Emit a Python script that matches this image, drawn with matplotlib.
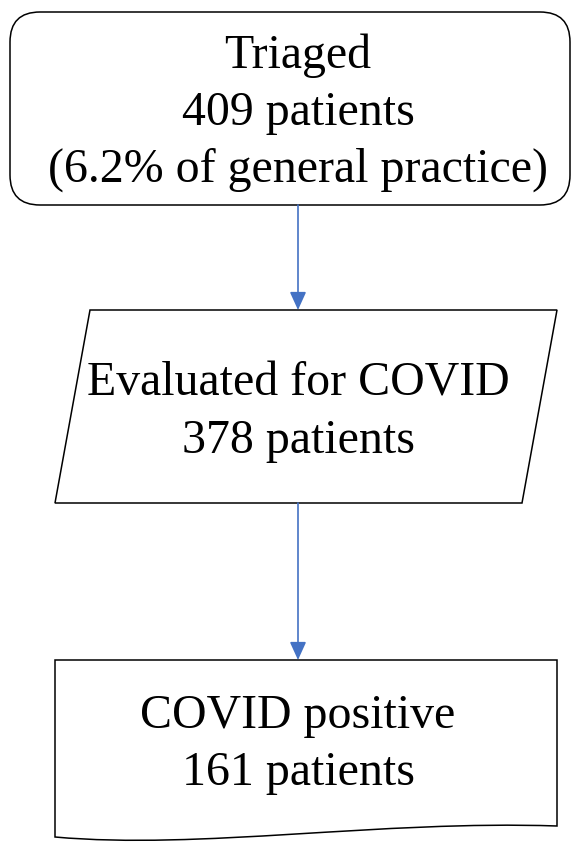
import numpy as np
import matplotlib.pyplot as plt
from matplotlib.patches import FancyBboxPatch, Polygon, PathPatch
from matplotlib.path import Path

# Текст блоков схемы
triaged_lines = ["Triaged", "409 patients", "(6.2% of general practice)"]
evaluated_lines = ["Evaluated for COVID", "378 patients"]
positive_lines = ["COVID positive", "161 patients"]

W, H = 574, 843
fig = plt.figure(figsize=(W / 100, H / 100), dpi=100)
ax = fig.add_axes([0, 0, 1, 1])
ax.set_xlim(0, W)
ax.set_ylim(H, 0)
ax.axis('off')

edge = 'black'
lw = 1.1
arrow_col = '#4472C4'
font = dict(family='Liberation Serif', fontsize=34.5, ha='center', va='center', color='black')

# Блок 1: скруглённый прямоугольник
box1 = FancyBboxPatch((10, 12), 560, 193, boxstyle='round,pad=0,rounding_size=30',
                      fc='white', ec=edge, lw=lw)
ax.add_patch(box1)
for i, t in enumerate(triaged_lines):
    ax.text(298, 56 + i * 57, t, **font)

# Блок 2: параллелограмм
para = Polygon([(90, 310), (557, 310), (522, 503), (55, 503)], closed=True,
               fc='white', ec=edge, lw=lw)
ax.add_patch(para)
for i, t in enumerate(evaluated_lines):
    ax.text(298, 384 + i * 57, t, **font)

# Блок 3: документ с волнистым низом
verts = [(55, 660), (557, 660), (557, 826),
         (380, 820), (200, 850), (55, 837),
         (55, 660)]
codes = [Path.MOVETO, Path.LINETO, Path.LINETO,
         Path.CURVE4, Path.CURVE4, Path.CURVE4,
         Path.CLOSEPOLY]
doc = PathPatch(Path(verts, codes), fc='white', ec=edge, lw=lw)
ax.add_patch(doc)
for i, t in enumerate(positive_lines):
    ax.text(298, 716 + i * 57, t, **font)

# Стрелки
for y0, y1 in [(205, 310), (503, 660)]:
    ax.annotate('', xy=(298, y1), xytext=(298, y0),
                arrowprops=dict(arrowstyle='-|>,head_length=1.1,head_width=0.5',
                                color=arrow_col, lw=1.2, shrinkA=0, shrinkB=0))

fig.savefig('out.png', dpi=100)
